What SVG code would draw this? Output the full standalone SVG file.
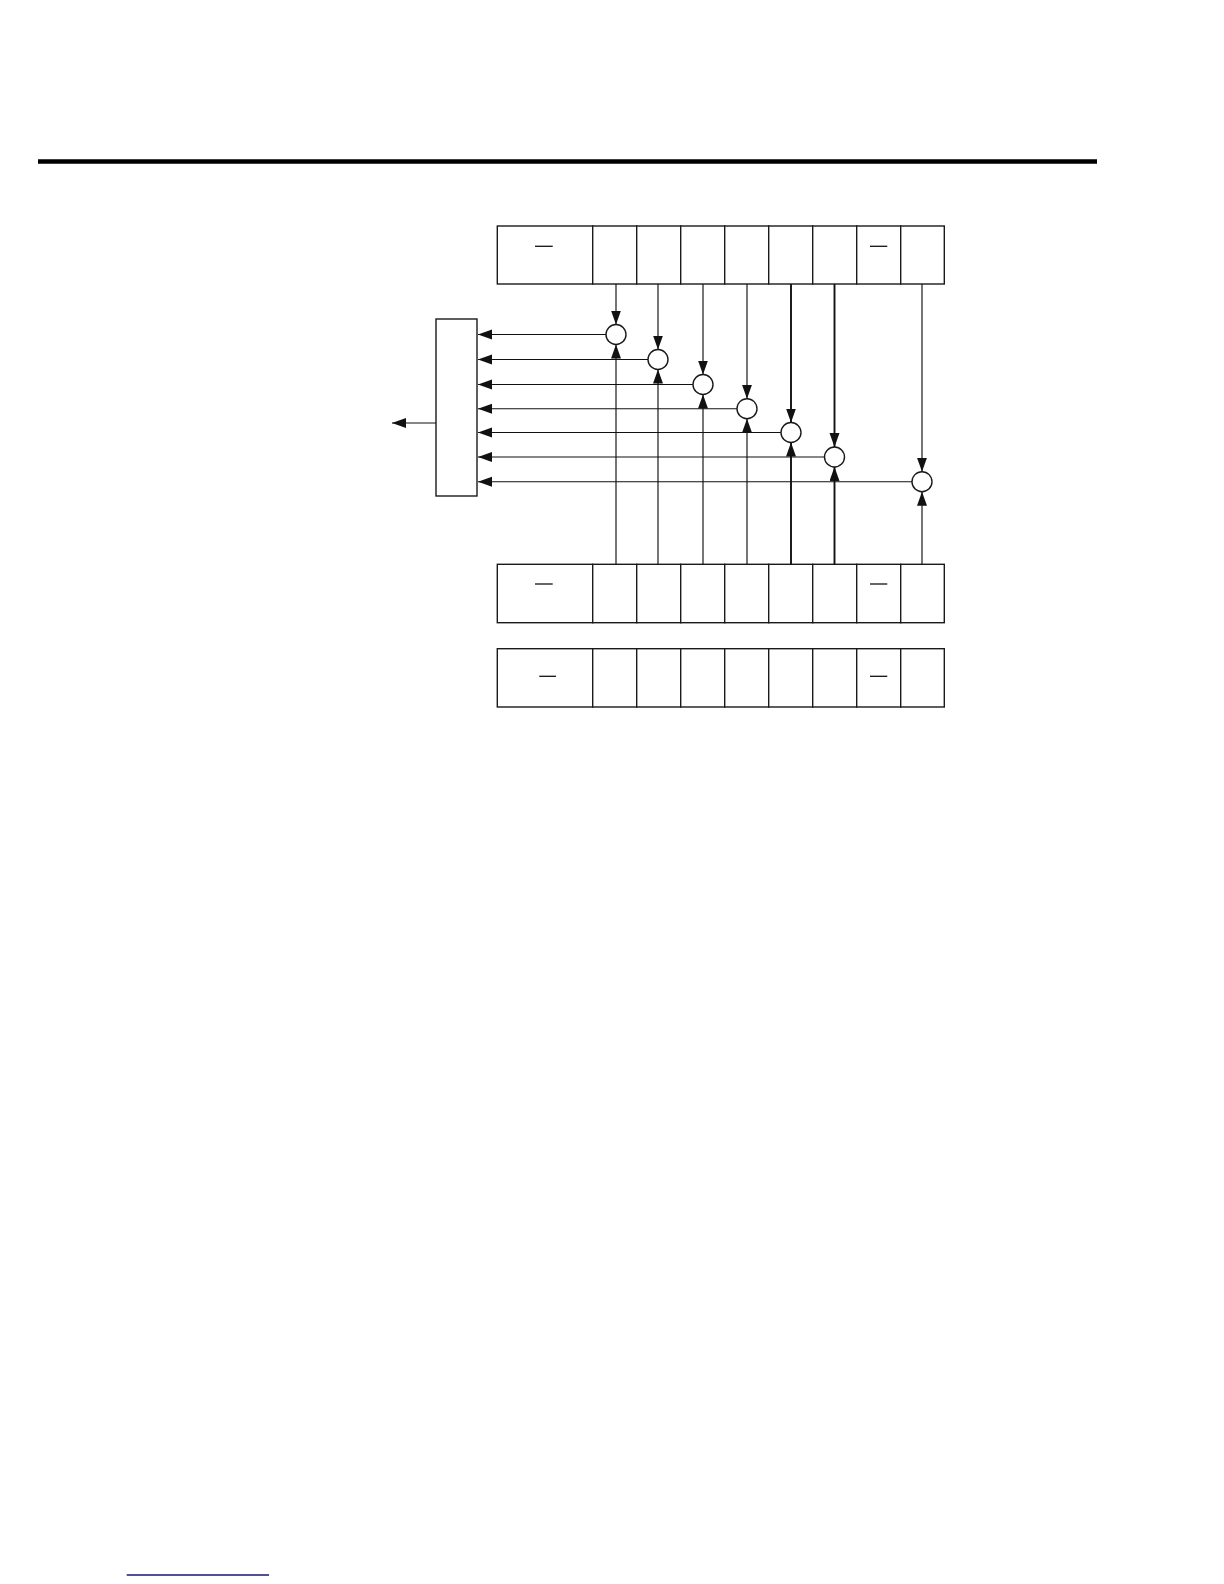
<svg xmlns="http://www.w3.org/2000/svg" width="1224" height="1584" viewBox="0 0 1224 1584">
<style>
.cell{fill:#fff;stroke:#1a1a1a;stroke-width:1.4}
.dash{stroke:#111;stroke-width:1.3}
.sum{fill:#fff;stroke:#1a1a1a;stroke-width:1.4}
.wire{stroke:#111;stroke-width:1.15;fill:none}
.bold{stroke-width:1.9}
</style>
<defs>
<marker id="ah" markerUnits="userSpaceOnUse" markerWidth="15" markerHeight="11" refX="14" refY="5" orient="auto">
<path d="M0,0 L14,5 L0,10 z" fill="#111"/>
</marker>
</defs>
<rect width="1224" height="1584" fill="#fff"/>
<line x1="38" y1="161.5" x2="1097" y2="161.5" stroke="#000" stroke-width="4.5"/>
<g id="row-top">
<rect class="cell" x="497.3" y="226" width="95.4" height="58"/>
<rect class="cell" x="592.7" y="226" width="44" height="58"/>
<rect class="cell" x="636.7" y="226" width="44" height="58"/>
<rect class="cell" x="680.7" y="226" width="44" height="58"/>
<rect class="cell" x="724.7" y="226" width="44" height="58"/>
<rect class="cell" x="768.7" y="226" width="44" height="58"/>
<rect class="cell" x="812.7" y="226" width="44" height="58"/>
<rect class="cell" x="856.7" y="226" width="44" height="58"/>
<rect class="cell" x="900.7" y="226" width="43.6" height="58"/>
<line class="dash" x1="535" y1="246.3" x2="552.7" y2="246.3"/>
<line class="dash" x1="870" y1="246.3" x2="887.3" y2="246.3"/>
</g>
<g id="row-mid">
<rect class="cell" x="497.3" y="564.3" width="95.4" height="58.4"/>
<rect class="cell" x="592.7" y="564.3" width="44" height="58.4"/>
<rect class="cell" x="636.7" y="564.3" width="44" height="58.4"/>
<rect class="cell" x="680.7" y="564.3" width="44" height="58.4"/>
<rect class="cell" x="724.7" y="564.3" width="44" height="58.4"/>
<rect class="cell" x="768.7" y="564.3" width="44" height="58.4"/>
<rect class="cell" x="812.7" y="564.3" width="44" height="58.4"/>
<rect class="cell" x="856.7" y="564.3" width="44" height="58.4"/>
<rect class="cell" x="900.7" y="564.3" width="43.6" height="58.4"/>
<line class="dash" x1="535" y1="584" x2="552.7" y2="584"/>
<line class="dash" x1="870" y1="584" x2="887.3" y2="584"/>
</g>
<g id="row-bottom">
<rect class="cell" x="497.3" y="648.7" width="95.4" height="58.3"/>
<rect class="cell" x="592.7" y="648.7" width="44" height="58.3"/>
<rect class="cell" x="636.7" y="648.7" width="44" height="58.3"/>
<rect class="cell" x="680.7" y="648.7" width="44" height="58.3"/>
<rect class="cell" x="724.7" y="648.7" width="44" height="58.3"/>
<rect class="cell" x="768.7" y="648.7" width="44" height="58.3"/>
<rect class="cell" x="812.7" y="648.7" width="44" height="58.3"/>
<rect class="cell" x="856.7" y="648.7" width="44" height="58.3"/>
<rect class="cell" x="900.7" y="648.7" width="43.6" height="58.3"/>
<line class="dash" x1="539.3" y1="676.3" x2="556" y2="676.3"/>
<line class="dash" x1="870" y1="676.3" x2="887.3" y2="676.3"/>
</g>
<g id="collector">
<rect class="cell" x="436" y="319" width="41" height="177"/>
</g>
<g id="sum1"><circle class="sum" cx="616" cy="334.5" r="10"/></g>
<g id="sum2"><circle class="sum" cx="658" cy="359.5" r="10"/></g>
<g id="sum3"><circle class="sum" cx="703" cy="384.5" r="10"/></g>
<g id="sum4"><circle class="sum" cx="747" cy="408.7" r="10"/></g>
<g id="sum5"><circle class="sum" cx="791" cy="432.5" r="10"/></g>
<g id="sum6"><circle class="sum" cx="834.5" cy="457" r="10"/></g>
<g id="sum7"><circle class="sum" cx="922" cy="481.7" r="10"/></g>
<g id="connectors">
<line class="wire" x1="616" y1="284" x2="616" y2="324.5" marker-end="url(#ah)"/>
<line class="wire" x1="658" y1="284" x2="658" y2="349.5" marker-end="url(#ah)"/>
<line class="wire" x1="703" y1="284" x2="703" y2="374.5" marker-end="url(#ah)"/>
<line class="wire" x1="747" y1="284" x2="747" y2="398.7" marker-end="url(#ah)"/>
<line class="wire bold" x1="791" y1="284" x2="791" y2="422.5" marker-end="url(#ah)"/>
<line class="wire bold" x1="834.5" y1="284" x2="834.5" y2="447" marker-end="url(#ah)"/>
<line class="wire" x1="922" y1="284" x2="922" y2="471.7" marker-end="url(#ah)"/>
<line class="wire" x1="616" y1="564.3" x2="616" y2="344.5" marker-end="url(#ah)"/>
<line class="wire" x1="658" y1="564.3" x2="658" y2="369.5" marker-end="url(#ah)"/>
<line class="wire" x1="703" y1="564.3" x2="703" y2="394.5" marker-end="url(#ah)"/>
<line class="wire" x1="747" y1="564.3" x2="747" y2="418.7" marker-end="url(#ah)"/>
<line class="wire bold" x1="791" y1="564.3" x2="791" y2="442.5" marker-end="url(#ah)"/>
<line class="wire bold" x1="834.5" y1="564.3" x2="834.5" y2="467" marker-end="url(#ah)"/>
<line class="wire" x1="922" y1="564.3" x2="922" y2="491.7" marker-end="url(#ah)"/>
<line class="wire" x1="606" y1="334.5" x2="478" y2="334.5" marker-end="url(#ah)"/>
<line class="wire" x1="648" y1="359.5" x2="478" y2="359.5" marker-end="url(#ah)"/>
<line class="wire" x1="693" y1="384.5" x2="478" y2="384.5" marker-end="url(#ah)"/>
<line class="wire" x1="737" y1="408.7" x2="478" y2="408.7" marker-end="url(#ah)"/>
<line class="wire" x1="781" y1="432.5" x2="478" y2="432.5" marker-end="url(#ah)"/>
<line class="wire" x1="824.5" y1="457" x2="478" y2="457" marker-end="url(#ah)"/>
<line class="wire" x1="912" y1="481.7" x2="478" y2="481.7" marker-end="url(#ah)"/>
<line class="wire" x1="436" y1="423" x2="392" y2="423" marker-end="url(#ah)"/>
</g>
<line x1="126.7" y1="1575" x2="269" y2="1575" stroke="#14147a" stroke-width="1.5"/>
</svg>
